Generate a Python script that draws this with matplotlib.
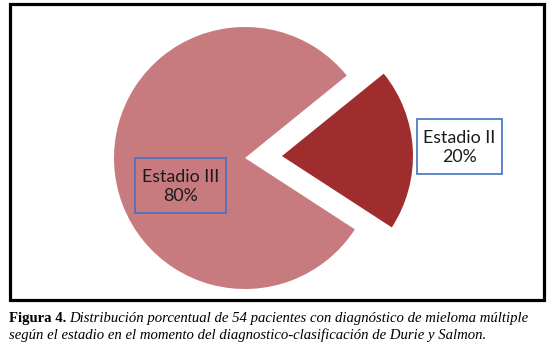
import matplotlib
matplotlib.use("Agg")
import matplotlib.pyplot as plt
from matplotlib.patches import Rectangle

labels = ["Estadio II", "Estadio III"]
values = [20, 80]
colors = ["#A02D2E", "#C87B7E"]
caption_bold = "Figura 4."
caption_line1 = "Distribución porcentual de 54 pacientes con diagnóstico de mieloma múltiple"
caption_line2 = "según el estadio en el momento del diagnostico-clasificación de Durie y Salmon."

W, H = 553, 359
fig = plt.figure(figsize=(W / 100, H / 100), dpi=100)
ax = fig.add_axes([0, 0, 1, 1])

def Y(y):
    return H - y

# pie
wedges, _ = ax.pie(values, colors=colors, startangle=-33, counterclock=True,
                   center=(245, Y(158)), radius=131, explode=[37, 0],
                   wedgeprops=dict(linewidth=0), frame=True)
ax.set_xlim(0, W)
ax.set_ylim(0, H)
ax.set_aspect("equal")
ax.axis("off")

# frame
ax.add_patch(Rectangle((9.5, Y(300)), 534, 296, fill=False, edgecolor="black", linewidth=2.3))

# label boxes
boxes = [(417, 119, 85, 55), (135, 158, 91, 55)]
for (bx, by, bw, bh), lab, v in zip(boxes, labels, values):
    ax.add_patch(Rectangle((bx, Y(by + bh)), bw, bh, fill=False, edgecolor="#4472C4", linewidth=1.2))
    ax.text(bx + bw / 2, Y(by + bh / 2) - 1, f"{lab}\n{v}%", ha="center", va="center",
            fontsize=12.8, family="Lato", color="#1a1a1a", linespacing=1.3)

# caption
fs = 10.6
t1 = ax.text(9, Y(322), caption_bold, fontsize=fs, family="Liberation Serif",
             fontweight="bold", ha="left", va="baseline", color="black")
fig.canvas.draw()
r = fig.canvas.get_renderer()
e = t1.get_window_extent(r)
x2 = e.x1 + 3
ax.text(x2, Y(322), caption_line1, fontsize=fs, family="Liberation Serif",
        style="italic", ha="left", va="baseline", color="black")
ax.text(9, Y(338.5), caption_line2, fontsize=fs, family="Liberation Serif",
        style="italic", ha="left", va="baseline", color="black")

fig.savefig("out.png", dpi=100)
